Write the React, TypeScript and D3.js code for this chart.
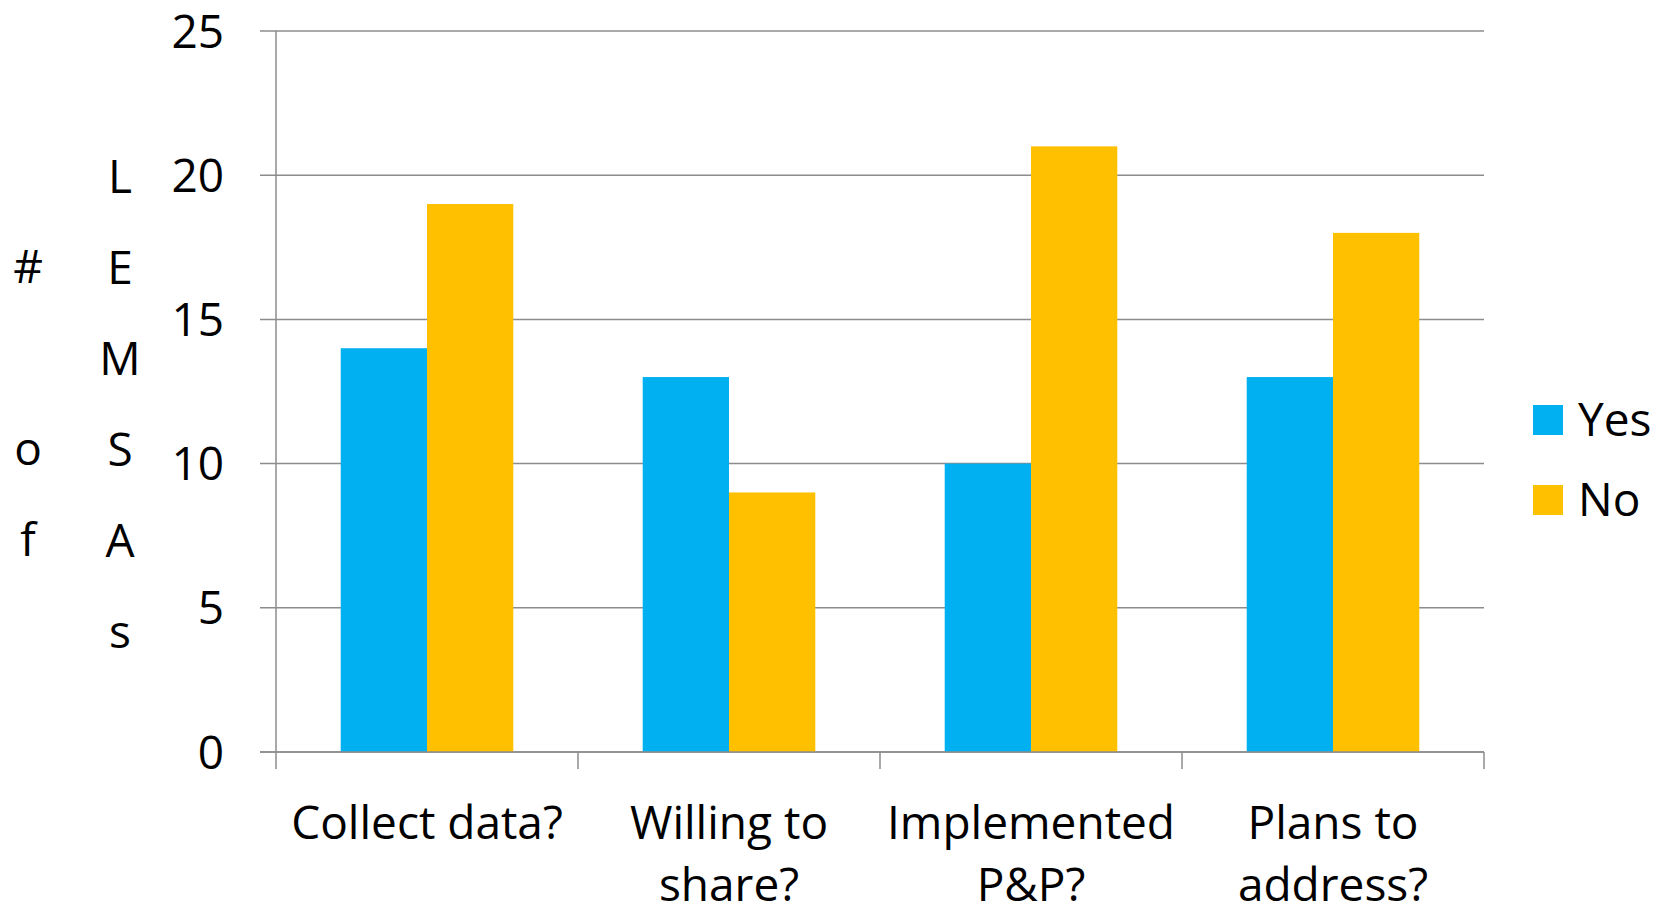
import React from "react";
import * as d3 from "d3";

const categories = [["Collect data?"], ["Willing to", "share?"], ["Implemented", "P&P?"], ["Plans to", "address?"]];
const seriesNames = ["Yes", "No"];
const yesValues = [14, 13, 10, 13];
const noValues = [19, 9, 21, 18];
const yTicks = [0, 5, 10, 15, 20, 25];
const colors = ["#00B0F0", "#FFC000"];
const yLabelCol1 = ["#", "", "o", "f"];
const yLabelCol2 = ["L", "E", "M", "S", "A", "s"];

const W = 1669, H = 909;
const left = 276, right = 1484, top = 31, bottom = 752;
const FONT = "'Open Sans', Lato, sans-serif";
const FS = 46;

export default function App() {
  const x = d3.scaleBand<number>().domain(d3.range(categories.length)).range([left, right]).paddingInner(0).paddingOuter(0);
  const y = d3.scaleLinear().domain([0, 25]).range([bottom, top]);
  const bw = x.bandwidth() / 3.5;
  const series = [yesValues, noValues];
  const grid = "#8c8c8c";
  return (
    <svg width={W} height={H} style={{ position: "absolute", left: 0, top: 0 }} fontFamily={FONT}>
      <rect width={W} height={H} fill="#fff" />
      {yTicks.map((t) => (
        <g key={t}>
          <line x1={left - 16} x2={right} y1={y(t)} y2={y(t)} stroke={grid} strokeWidth={1.5} />
          <text x={224} y={y(t)} dy="0.36em" textAnchor="end" fontSize={FS} fill="#000">{t}</text>
        </g>
      ))}
      {series.map((vals, si) =>
        vals.map((v, i) => (
          <rect key={si + "-" + i} x={x(i)! + bw * 0.75 + si * bw} y={y(v)} width={bw} height={y(0) - y(v)} fill={colors[si]} />
        ))
      )}
      <line x1={left} x2={left} y1={top} y2={bottom} stroke={grid} strokeWidth={1.5} />
      <line x1={left - 16} x2={right} y1={bottom} y2={bottom} stroke={grid} strokeWidth={1.5} />
      {d3.range(categories.length + 1).map((i) => {
        const xx = left + i * x.bandwidth();
        return <line key={i} x1={xx} x2={xx} y1={bottom} y2={bottom + 17} stroke={grid} strokeWidth={1.5} />;
      })}
      {categories.map((lines, i) => (
        <text key={i} textAnchor="middle" fontSize={FS} fill="#000">
          {lines.map((l, j) => (
            <tspan key={j} x={x(i)! + x.bandwidth() / 2} y={839 + j * 62}>{l}</tspan>
          ))}
        </text>
      ))}
      {yLabelCol1.map((c, i) => (
        <text key={"a" + i} x={28} y={283 + i * 91} textAnchor="middle" fontSize={FS} fill="#000">{c}</text>
      ))}
      {yLabelCol2.map((c, i) => (
        <text key={"b" + i} x={120} y={193 + i * 91} textAnchor="middle" fontSize={FS} fill="#000">{c}</text>
      ))}
      {seriesNames.map((s, i) => (
        <g key={s}>
          <rect x={1533} y={405 + i * 80} width={30} height={30} fill={colors[i]} />
          <text x={1578} y={436 + i * 80} fontSize={FS} fill="#000">{s}</text>
        </g>
      ))}
    </svg>
  );
}
